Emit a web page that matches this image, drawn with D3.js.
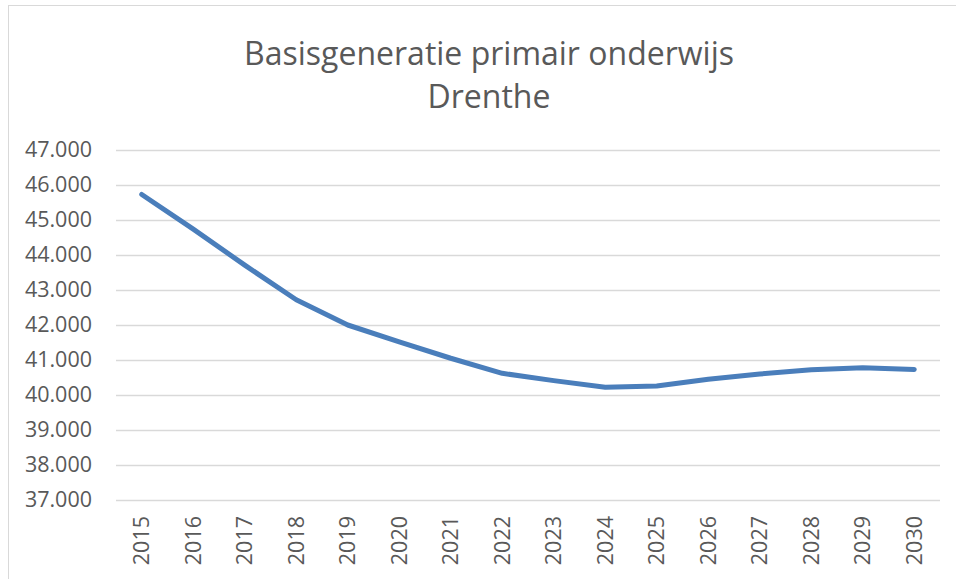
<!DOCTYPE html>
<html>
<head>
    <meta charset="utf-8" />
    <title>Basisgeneratie primair onderwijs Drenthe</title>
    <script src="https://cdn.jsdelivr.net/npm/d3@7"></script>
    <style>
        body { margin: 0; background: #fff; }
        text { font-family: "Open Sans", "Liberation Sans", sans-serif; fill: #595959; }
    </style>
</head>
<body>
    <script>

        // data
        var years = ["2015", "2016", "2017", "2018", "2019", "2020", "2021", "2022",
                     "2023", "2024", "2025", "2026", "2027", "2028", "2029", "2030"];
        var values = [45730, 44740, 43710, 42720, 42000, 41520, 41050, 40620,
                      40410, 40220, 40260, 40450, 40600, 40720, 40780, 40730];
        var yTicks = [37000, 38000, 39000, 40000, 41000, 42000, 43000, 44000, 45000, 46000, 47000];
        var titleLines = ["Basisgeneratie primair onderwijs", "Drenthe"];

        var w = 956;
        var h = 579;
        var margin = { top: 150, right: 16, bottom: 79, left: 116 };

        var svg = d3.select("body")
            .append("svg")
            .attr("width", w)
            .attr("height", h);

        // chart border
        svg.append("rect")
            .attr("x", 8.5)
            .attr("y", 5.5)
            .attr("width", w)
            .attr("height", h)
            .attr("fill", "none")
            .attr("stroke", "#d9d9d9")
            .attr("stroke-width", 1);

        var xScale = d3.scaleBand()
            .domain(years)
            .range([margin.left, w - margin.right]);

        var yScale = d3.scaleLinear()
            .domain([37000, 47000])
            .range([h - margin.bottom, margin.top]);

        // title
        svg.append("text")
            .attr("x", 489)
            .attr("y", 65)
            .attr("text-anchor", "middle")
            .style("font-size", "32px")
            .text(titleLines[0]);
        svg.append("text")
            .attr("x", 489)
            .attr("y", 108)
            .attr("text-anchor", "middle")
            .style("font-size", "32px")
            .text(titleLines[1]);

        // gridlines + y labels
        var fmt = function (d) { return d3.format(",")(d).replace(/,/g, "."); };
        var yAxis = d3.axisLeft(yScale)
            .tickValues(yTicks)
            .tickSize(-(w - margin.left - margin.right))
            .tickPadding(24)
            .tickFormat(fmt);

        svg.append("g")
            .attr("class", "y axis")
            .attr("transform", "translate(" + margin.left + ",0)")
            .call(yAxis)
            .call(function (g) {
                g.select(".domain").remove();
                g.selectAll(".tick line").attr("stroke", "#d9d9d9").attr("stroke-width", 1.5);
                g.selectAll(".tick text")
                    .style("font-size", "21.5px")
                    .attr("fill", "#595959");
            });

        // x labels
        var xAxis = d3.axisBottom(xScale).tickSize(0).tickPadding(0);
        svg.append("g")
            .attr("class", "x axis")
            .attr("transform", "translate(0," + (h - margin.bottom) + ")")
            .call(xAxis)
            .call(function (g) {
                g.select(".domain").remove();
                g.selectAll(".tick text")
                    .style("font-size", "21.5px")
                    .attr("fill", "#595959")
                    .attr("text-anchor", "end")
                    .attr("dy", "0.35em")
                    .attr("transform", "translate(0,16) rotate(-90)")
                    .attr("y", 0)
                    .attr("x", 0);
            });

        // line
        var line = d3.line()
            .x(function (d, i) { return xScale(years[i]) + xScale.bandwidth() / 2; })
            .y(function (d) { return yScale(d); });

        svg.append("path")
            .datum(values)
            .attr("d", line)
            .attr("fill", "none")
            .attr("stroke", "#4a7ebb")
            .attr("stroke-width", 5)
            .attr("stroke-linecap", "round")
            .attr("stroke-linejoin", "round");

    </script>
</body>
</html>
